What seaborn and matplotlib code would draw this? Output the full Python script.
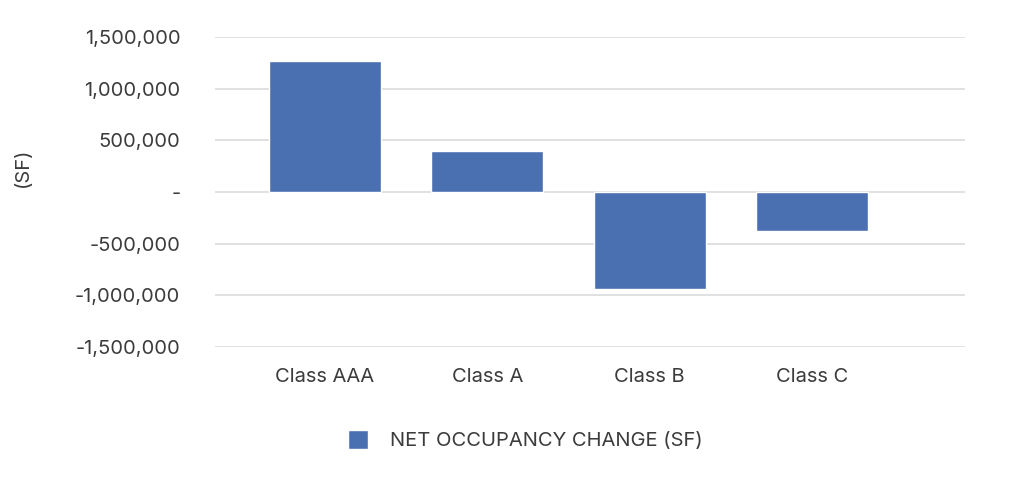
import pandas as pd
import matplotlib.pyplot as plt
import matplotlib.ticker as mticker
import seaborn as sns

# values
categories = ['Class AAA', 'Class A', 'Class B', 'Class C']
net_change = [1267000, 398000, -936000, -380000]
series_name = 'NET OCCUPANCY CHANGE (SF)'
y_ticks = [-1500000, -1000000, -500000, 0, 500000, 1000000, 1500000]

df = pd.DataFrame({'Class': categories, 'SF': net_change, 'Series': series_name})

sns.set_theme(style='white')
plt.rcParams['font.family'] = ['Inter', 'DejaVu Sans']
text_col = '#3c3c3c'
fs = 14.5

fig = plt.figure(figsize=(10.24, 4.78), dpi=100)
ax = fig.add_axes([0.21, 0.274, 0.732, 0.6486])

sns.barplot(data=df, x='Class', y='SF', hue='Series', palette=['#4a70b1'],
            width=0.69, saturation=1, legend=True, ax=ax)

ax.set_xlim(-0.677, 3.94)
ax.set_ylim(-1500000, 1500000)
ax.set_yticks(y_ticks)
ax.yaxis.set_major_formatter(mticker.FuncFormatter(
    lambda v, p: '-' if v == 0 else f'{int(v):,}'))
ax.grid(axis='y', color='#d9d9d9', linewidth=1.1)
ax.set_axisbelow(True)
for s in ax.spines.values():
    s.set_visible(False)
ax.tick_params(axis='y', length=0, pad=25, labelsize=fs, labelcolor=text_col)
ax.tick_params(axis='x', length=0, pad=15, labelsize=fs, labelcolor=text_col)
ax.set_xlabel('')
ax.set_ylabel('(SF)', fontsize=fs, color=text_col)
ax.yaxis.set_label_coords(-0.245, 0.58)

sns.move_legend(ax, 'center', bbox_to_anchor=(0.513, 0.08),
                bbox_transform=fig.transFigure, frameon=False, title=None,
                fontsize=fs, handlelength=1.0, handleheight=1.1,
                handletextpad=1.1)
for t in ax.get_legend().get_texts():
    t.set_color(text_col)

fig.savefig('out.png', dpi=100)
